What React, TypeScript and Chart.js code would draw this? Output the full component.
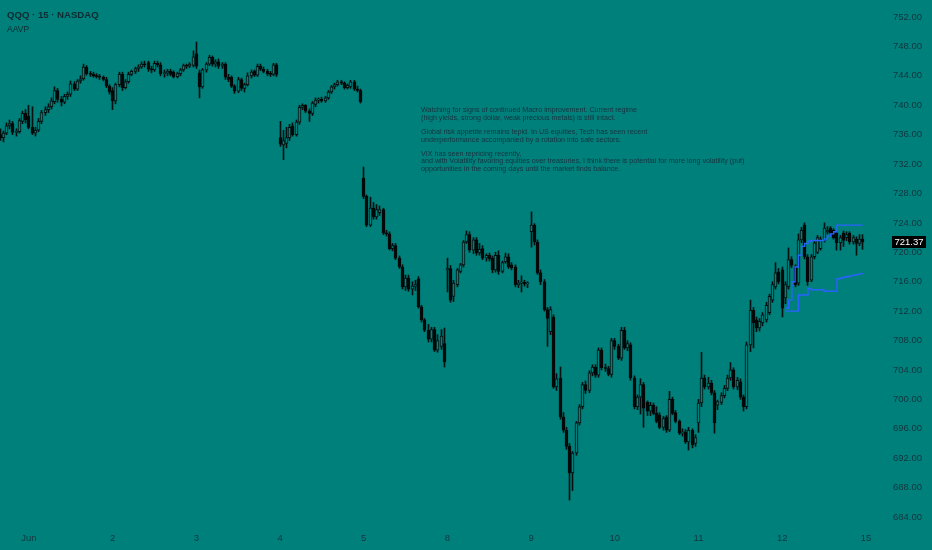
import React, { useEffect, useRef } from "react";
import { Chart, registerables } from "chart.js";

Chart.register(...registerables);

type OHLC = [number, number, number, number]; // open, high, low, close

// ---- 15-minute QQQ bars, grouped by session ----
const MAY29: OHLC[] = [
  [736.0, 736.8, 735.2, 735.6], [735.6, 736.5, 735.0, 736.2], [736.2, 737.6, 736.0, 737.2],
  [737.2, 738.0, 736.8, 737.5], [737.5, 737.8, 736.0, 736.3], [736.3, 736.8, 735.8, 736.4],
  [736.4, 738.2, 736.2, 737.9], [737.8, 739.2, 737.5, 738.9], [738.9, 739.4, 737.6, 738.0],
];
const JUN01: OHLC[] = [
  [738.5, 740.0, 736.8, 737.0], [737.0, 739.8, 736.0, 736.2], [736.2, 737.0, 735.8, 736.6],
  [736.6, 738.2, 736.4, 737.8], [737.8, 739.3, 737.5, 739.0], [739.0, 739.8, 738.6, 739.4],
  [739.4, 740.2, 739.0, 739.8], [739.8, 741.0, 739.5, 740.6], [740.5, 742.5, 740.2, 742.0],
  [742.0, 742.3, 740.4, 740.8], [740.8, 741.2, 739.9, 740.4], [740.4, 741.5, 740.2, 741.2],
  [741.2, 741.8, 740.8, 741.5], [741.5, 743.3, 741.2, 742.9], [742.9, 743.2, 742.0, 742.2],
  [742.2, 743.5, 742.0, 743.3], [743.3, 744.0, 743.0, 743.6], [743.6, 745.6, 743.4, 745.2],
  [745.2, 745.4, 744.1, 744.3], [744.3, 744.6, 743.9, 744.2], [744.2, 744.5, 743.8, 744.0],
  [744.0, 744.3, 743.7, 743.9], [743.9, 744.2, 743.5, 743.8], [743.8, 744.0, 743.3, 743.5],
  [743.5, 743.8, 742.4, 742.6], [742.6, 742.8, 741.5, 741.8],
];
const JUN02: OHLC[] = [
  [742.0, 742.4, 739.4, 740.6], [740.6, 743.0, 740.2, 742.8], [742.8, 744.5, 742.5, 744.2],
  [744.2, 744.5, 742.0, 742.4], [742.4, 743.5, 742.2, 743.2], [743.2, 744.5, 743.0, 744.2],
  [744.2, 744.8, 744.0, 744.6], [744.6, 745.2, 744.3, 745.0], [745.0, 745.5, 744.6, 745.2],
  [745.2, 745.9, 745.0, 745.6], [745.6, 746.0, 745.2, 745.5], [745.8, 746.0, 744.6, 744.9],
  [744.9, 745.3, 744.4, 744.8], [744.8, 746.0, 744.6, 745.7], [745.7, 746.0, 745.2, 745.5],
  [745.5, 745.8, 744.0, 744.3], [744.3, 744.8, 743.8, 744.4], [744.4, 744.9, 744.0, 744.6],
  [744.6, 744.9, 744.0, 744.2], [744.5, 744.7, 743.7, 743.9], [743.9, 744.5, 743.7, 744.3],
  [744.3, 745.0, 744.0, 744.8], [744.8, 745.6, 744.6, 745.4], [745.4, 745.6, 745.0, 745.3],
  [745.3, 745.8, 745.1, 745.6], [745.4, 747.4, 745.2, 746.6],
];
const JUN03: OHLC[] = [
  [747.0, 748.6, 745.0, 745.3], [744.4, 744.8, 741.0, 742.5], [742.5, 745.0, 742.3, 744.8],
  [744.8, 745.8, 744.5, 745.6], [745.6, 746.8, 745.4, 746.5], [746.5, 746.7, 745.3, 745.6],
  [745.6, 746.2, 745.2, 745.9], [745.9, 746.3, 745.0, 745.3], [745.3, 745.8, 745.0, 745.6],
  [745.6, 745.8, 743.5, 743.8], [743.8, 744.2, 743.2, 743.5], [743.8, 744.0, 742.4, 742.6],
  [742.6, 742.8, 741.6, 741.9], [741.9, 743.8, 741.7, 743.5], [743.5, 743.7, 742.0, 742.3],
  [742.3, 743.0, 741.8, 742.8], [742.8, 744.4, 742.6, 744.0], [744.0, 744.8, 743.7, 744.5],
  [744.6, 744.8, 743.9, 744.1], [744.1, 745.6, 743.9, 745.3], [745.3, 745.6, 744.7, 744.9],
  [744.9, 745.2, 744.4, 744.6], [744.6, 744.9, 744.0, 744.3], [744.3, 744.6, 743.9, 744.2],
  [744.2, 745.7, 744.0, 745.5], [745.5, 745.7, 743.9, 744.2],
];
const JUN04: OHLC[] = [
  [735.6, 737.8, 734.4, 734.7], [734.6, 736.6, 732.6, 735.2], [734.8, 737.0, 734.2, 735.6],
  [735.6, 737.4, 735.2, 737.0], [737.2, 737.6, 735.8, 736.0], [736.0, 738.0, 735.8, 737.7],
  [737.7, 740.0, 737.4, 739.7], [739.7, 740.2, 739.4, 740.0], [740.0, 740.1, 739.0, 739.2],
  [739.2, 739.5, 737.8, 738.9], [738.9, 740.5, 738.6, 740.3], [740.1, 741.0, 739.8, 740.7],
  [740.7, 741.0, 740.3, 740.8], [740.8, 741.1, 740.4, 740.6], [740.6, 741.2, 740.4, 741.0],
  [741.0, 742.0, 740.8, 741.8], [741.8, 742.7, 741.6, 742.5], [742.5, 743.0, 742.2, 742.8],
  [742.8, 743.4, 742.6, 743.2], [743.2, 743.4, 742.8, 743.0], [743.0, 743.2, 742.2, 742.4],
  [742.4, 742.9, 742.2, 742.7], [742.5, 743.4, 742.3, 743.2], [743.2, 743.4, 742.0, 742.2],
  [742.2, 742.6, 741.8, 742.0], [742.0, 742.2, 740.3, 740.5],
];
const JUN05: OHLC[] = [
  [730.1, 731.6, 727.3, 727.6], [727.6, 727.8, 723.5, 723.7], [723.7, 727.5, 723.5, 726.0],
  [726.0, 726.8, 724.5, 724.8], [724.8, 726.5, 724.5, 725.8], [725.4, 726.3, 725.0, 725.8],
  [725.8, 726.0, 722.4, 722.6], [722.6, 723.0, 722.2, 722.5], [722.5, 722.8, 720.3, 720.5],
  [720.5, 721.2, 720.2, 720.9], [720.9, 721.2, 719.0, 719.2], [719.2, 719.5, 717.8, 718.0],
  [718.0, 718.3, 715.0, 715.3], [715.3, 716.9, 714.8, 716.5], [716.5, 716.9, 714.7, 715.0],
  [715.0, 716.0, 714.2, 715.4], [715.4, 716.2, 714.8, 715.6], [716.4, 716.7, 712.4, 712.6],
  [712.6, 712.8, 710.5, 710.8], [710.8, 711.0, 709.2, 709.4], [709.4, 710.2, 707.8, 708.2],
  [708.2, 709.8, 707.8, 709.5], [709.5, 709.8, 706.5, 706.7], [706.7, 708.8, 706.4, 708.0],
  [707.2, 709.5, 706.8, 708.6], [707.6, 709.7, 704.4, 705.1],
];
const JUN08: OHLC[] = [
  [717.6, 719.2, 714.6, 717.8], [717.8, 718.2, 713.2, 713.5], [714.0, 716.2, 713.3, 715.8],
  [715.6, 717.8, 715.3, 717.6], [717.4, 718.5, 717.2, 718.3], [718.3, 721.6, 718.0, 721.4],
  [721.4, 722.9, 721.2, 722.4], [722.4, 722.8, 720.0, 720.3], [720.3, 722.0, 719.8, 721.7],
  [721.7, 722.0, 719.6, 719.9], [719.9, 721.2, 719.6, 720.4], [720.5, 720.9, 719.0, 719.2],
  [719.2, 719.8, 718.8, 719.6], [719.6, 719.9, 718.8, 719.1], [719.2, 719.5, 717.2, 717.6],
  [717.6, 720.0, 717.3, 719.6], [719.6, 720.2, 717.0, 717.4], [717.4, 718.8, 717.2, 718.6],
  [718.7, 719.9, 718.5, 719.4], [719.4, 719.8, 717.8, 718.0], [718.3, 718.6, 717.6, 717.9],
  [718.0, 718.3, 715.3, 715.6], [715.6, 716.2, 715.2, 715.8], [715.8, 716.8, 714.6, 715.9],
  [715.9, 716.2, 715.4, 715.7], [715.7, 716.0, 715.2, 715.8],
];
const JUN09: OHLC[] = [
  [722.8, 725.5, 720.7, 723.7], [723.7, 723.9, 721.0, 721.4], [721.4, 721.7, 717.0, 717.2],
  [717.2, 717.6, 715.6, 716.0], [716.0, 716.3, 712.0, 712.2], [712.2, 712.5, 707.2, 711.0],
  [709.2, 712.6, 708.8, 712.2], [711.2, 711.5, 701.5, 701.7], [701.7, 703.5, 701.2, 702.8],
  [702.9, 704.4, 697.3, 697.6], [697.6, 698.2, 695.5, 695.8], [695.8, 696.2, 693.2, 693.6],
  [693.6, 694.0, 686.3, 690.0], [690.0, 692.9, 687.6, 692.7], [692.7, 697.0, 692.4, 696.8],
  [696.8, 699.3, 696.5, 699.0], [699.0, 702.3, 698.7, 702.0], [702.0, 702.5, 700.8, 701.2],
  [701.2, 703.9, 700.9, 703.6], [703.6, 704.7, 703.2, 704.4], [704.4, 704.7, 703.0, 703.3],
  [703.3, 707.0, 703.0, 706.7], [706.7, 707.0, 704.0, 704.3], [704.3, 704.8, 703.8, 704.2],
  [704.2, 704.5, 703.2, 703.4], [703.4, 708.3, 703.0, 708.0],
];
const JUN10: OHLC[] = [
  [708.0, 708.3, 706.8, 707.2], [707.2, 707.5, 705.4, 705.6], [705.6, 709.8, 705.3, 709.4],
  [709.4, 709.8, 706.8, 707.0], [707.0, 708.0, 706.6, 707.6], [707.4, 707.7, 702.6, 702.9],
  [702.9, 703.2, 698.7, 699.0], [699.0, 700.6, 698.6, 700.3], [700.3, 702.8, 698.0, 702.0],
  [702.0, 702.3, 696.2, 698.8], [699.6, 699.8, 697.8, 698.4], [698.4, 699.6, 697.8, 699.2],
  [699.2, 699.5, 697.9, 698.1], [698.1, 699.0, 696.8, 697.0], [697.9, 698.2, 696.0, 696.2],
  [696.2, 697.7, 695.8, 697.4], [697.6, 697.8, 695.5, 695.8], [695.8, 701.1, 695.6, 700.0],
  [700.0, 700.3, 697.9, 698.1], [698.2, 698.5, 696.8, 697.0], [697.0, 697.2, 695.2, 695.4],
  [695.4, 696.0, 695.0, 695.6], [695.6, 695.9, 694.0, 694.2], [694.2, 696.2, 693.1, 695.8],
  [695.8, 696.0, 693.4, 693.8], [694.0, 695.2, 693.6, 694.8],
];
const JUN11: OHLC[] = [
  [696.8, 700.0, 695.5, 699.5], [699.5, 706.4, 699.0, 702.9], [702.9, 703.3, 701.4, 701.7],
  [701.7, 703.0, 701.4, 702.2], [702.2, 702.6, 700.6, 700.9], [700.9, 701.2, 695.4, 696.8],
  [699.2, 699.9, 698.6, 699.7], [699.6, 700.9, 699.3, 700.5], [700.5, 701.9, 700.2, 701.5],
  [701.5, 703.3, 701.2, 702.9], [702.9, 705.0, 702.6, 704.0], [704.0, 704.3, 701.4, 701.7],
  [701.7, 703.0, 701.3, 702.6], [702.4, 702.8, 700.0, 700.3], [700.3, 700.6, 698.4, 699.0],
  [699.0, 707.8, 698.7, 707.4], [707.4, 713.5, 706.5, 712.1], [712.1, 712.5, 707.0, 710.4],
  [710.8, 711.2, 709.2, 709.7], [709.7, 711.0, 709.3, 710.6], [710.4, 711.8, 710.0, 711.5],
  [710.8, 713.2, 710.5, 712.8], [711.8, 714.3, 711.5, 714.0], [713.5, 716.0, 713.2, 715.6],
  [715.3, 718.6, 715.0, 717.2], [717.3, 717.8, 715.7, 716.0],
];
const JUN12: OHLC[] = [
  [717.6, 718.0, 711.2, 712.4], [713.8, 716.0, 713.0, 715.6], [715.3, 720.6, 715.0, 719.0],
  [719.0, 719.4, 717.9, 718.2], [718.0, 718.3, 715.3, 715.6], [715.8, 722.5, 715.5, 721.7],
  [721.7, 723.4, 721.3, 723.0], [723.7, 724.0, 719.1, 719.4], [719.4, 719.7, 715.5, 716.0],
  [716.2, 719.7, 716.0, 719.4], [719.4, 721.6, 719.1, 721.3], [720.0, 722.3, 719.8, 722.0],
  [720.5, 722.1, 720.3, 721.8], [721.7, 724.0, 721.4, 723.3], [722.8, 723.5, 722.5, 723.0],
  [723.3, 723.5, 722.3, 722.6], [723.0, 723.2, 721.8, 722.0], [722.6, 722.8, 720.3, 721.3],
  [721.3, 722.3, 720.3, 722.0], [722.6, 722.9, 720.8, 721.6], [722.0, 722.8, 721.6, 722.4],
  [722.6, 722.8, 721.1, 721.4], [721.4, 722.3, 721.1, 722.0], [721.8, 722.1, 719.6, 721.2],
  [721.2, 722.4, 720.9, 721.8], [721.8, 722.4, 720.4, 721.37],
];

const SESSIONS: OHLC[][] = [MAY29, JUN01, JUN02, JUN03, JUN04, JUN05, JUN08, JUN09, JUN10, JUN11, JUN12];
// labels for the first bar of each session after May 29, plus the next session (Jun 15)
const DAY_LABELS = ["Jun", "2", "3", "4", "5", "8", "9", "10", "11", "12", "15"];
const Y_TICKS = [684, 688, 692, 696, 700, 704, 708, 712, 716, 720, 724, 728, 732, 736, 740, 744, 748, 752];

// AAVP indicator lines (anchored on Jun 12), one value per bar from bar AAVP_START
const AAVP_START = 244;
const AAVP_UPPER = [
  712.4, 713.5, 716.0, 718.0, 719.6, 720.8, 721.2, 721.5, 721.6, 721.6, 721.6, 721.6, 721.8,
  722.2, 722.5, 722.8, 723.7, 723.7, 723.7, 723.7, 723.7, 723.7, 723.7, 723.7, 723.7,
];
const AAVP_LOWER = [
  712.0, 712.0, 712.0, 712.0, 714.2, 714.2, 714.2, 715.1, 714.9, 714.9, 714.9, 714.9, 714.7,
  714.7, 714.7, 714.7, 716.4, 716.5, 716.6, 716.7, 716.8, 716.9, 717.0, 717.1, 717.2,
];
const LAST_PRICE = 721.37;

const NOTE_LINES = [
  "Watching for signs of continued Macro improvement. Current regime",
  "(high yields, strong dollar, weak precious metals) is still intact.",
  "",
  "Global risk appetite remains tepid. In US equities, Tech has seen recent",
  "underperformance accompanied by a rotation into safe sectors.",
  "",
  "VIX has seen repricing recently,",
  "and with Volatility favoring equities over treasuries, I think there is potential for more long volatility (put)",
  "opportunities in the coming days until the market finds balance.",
];

const BG = "#00807b";
const DOWN = "#030808";
const EDGE = "#061010";
const WICK = "#061010";
const LINE_BLUE = "#2962ff";
const TEXT = "#14343f";

const W = 932;
const H = 550;
const AXIS_W = 52;
const AXIS_H = 20;
const PX_PER_BAR = 3.219;
const Y_PX_PER_UNIT = 7.353;
const Y_TOP_VALUE = 752 + 17 / Y_PX_PER_UNIT;

export default function App() {
  const ref = useRef<HTMLCanvasElement | null>(null);

  useEffect(() => {
    document.body.style.margin = "0";
    const canvas = ref.current;
    if (!canvas) return;

    const bars: OHLC[] = SESSIONS.flat();
    const dayStarts: number[] = [];
    let acc = 0;
    SESSIONS.forEach((s, k) => {
      if (k > 0) dayStarts.push(acc);
      acc += s.length;
    });
    dayStarts.push(acc);
    const labelAt = new Map<number, string>();
    dayStarts.forEach((v, k) => labelAt.set(v, DAY_LABELS[k]));

    const plotW = W - AXIS_W;
    const plotH = H - AXIS_H;
    const xMax = plotW / PX_PER_BAR;
    const yMin = Y_TOP_VALUE - plotH / Y_PX_PER_UNIT;

    const bgPlugin = {
      id: "bg",
      beforeDraw(chart: any) {
        const c = chart.ctx;
        c.save();
        c.fillStyle = BG;
        c.fillRect(0, 0, chart.width, chart.height);
        c.restore();
      },
      // snap candle bodies and wicks to whole device pixels so they render crisply
      afterDatasetsUpdate(chart: any) {
        chart.data.datasets.forEach((_ds: any, di: number) => {
          const meta = chart.getDatasetMeta(di);
          if (meta.type !== "bar") return;
          meta.data.forEach((el: any) => {
            el.x = Math.floor(el.x) + 0.5;
          });
        });
      },
      afterDraw(chart: any) {
        const c = chart.ctx;
        const y = chart.scales.y.getPixelForValue(LAST_PRICE);
        c.save();
        c.fillStyle = "#000000";
        c.fillRect(892, Math.round(y) - 6, 34, 12);
        c.fillStyle = "#ffffff";
        c.font = "9.5px 'Liberation Sans', Arial, sans-serif";
        c.textAlign = "center";
        c.textBaseline = "middle";
        c.fillText(LAST_PRICE.toFixed(2), 909, Math.round(y) + 0.5);
        c.restore();
      },
    };

    const chart = new Chart(canvas, {
      type: "bar",
      data: {
        datasets: [
          {
            type: "line",
            data: AAVP_UPPER.map((v, k) => ({ x: AAVP_START + k, y: v })),
            borderColor: LINE_BLUE,
            borderWidth: 1.4,
            pointRadius: 0,
            stepped: true,
            order: 0,
          } as any,
          {
            type: "line",
            data: AAVP_LOWER.map((v, k) => ({ x: AAVP_START + k, y: v })),
            borderColor: LINE_BLUE,
            borderWidth: 1.4,
            pointRadius: 0,
            stepped: true,
            order: 0,
          } as any,
          {
            data: bars.map((b, i) => ({ x: i, y: [b[0], b[3]] })),
            backgroundColor: bars.map((b) => (b[3] < b[0] ? DOWN : BG)),
            borderColor: bars.map((b) => (b[3] < b[0] ? DOWN : EDGE)),
            borderWidth: 1,
            borderSkipped: false,
            barThickness: 3,
            minBarLength: 1,
            grouped: false,
            order: 1,
          } as any,
          {
            data: bars.map((b, i) => ({ x: i, y: [b[2], b[1]] })),
            backgroundColor: WICK,
            borderWidth: 0,
            barThickness: 1,
            grouped: false,
            order: 2,
          } as any,
        ],
      },
      options: {
        animation: false,
        responsive: false,
        events: [],
        layout: { padding: 0, autoPadding: false },
        plugins: { legend: { display: false }, tooltip: { enabled: false } },
        scales: {
          x: {
            type: "linear",
            min: 0,
            max: xMax,
            offset: false,
            grid: { display: false, drawTicks: false },
            border: { display: false },
            afterBuildTicks: (axis: any) => {
              axis.ticks = dayStarts.map((v) => ({ value: v }));
            },
            afterFit: (axis: any) => {
              axis.height = AXIS_H;
              axis.paddingLeft = 0;
              axis.paddingRight = 0;
            },
            ticks: {
              autoSkip: false,
              maxRotation: 0,
              padding: 3,
              color: TEXT,
              font: { family: "'Liberation Sans', Arial, sans-serif", size: 9.5 },
              callback: (v: any) => labelAt.get(Number(v)) ?? "",
            },
          },
          y: {
            type: "linear",
            position: "right",
            min: yMin,
            max: Y_TOP_VALUE,
            grid: { display: false, drawTicks: false },
            border: { display: false },
            afterBuildTicks: (axis: any) => {
              axis.ticks = Y_TICKS.map((v) => ({ value: v }));
            },
            afterFit: (axis: any) => {
              axis.width = AXIS_W;
              axis.paddingTop = 0;
              axis.paddingBottom = 0;
            },
            ticks: {
              padding: 13,
              color: TEXT,
              font: { family: "'Liberation Sans', Arial, sans-serif", size: 9.5 },
              callback: (v: any) => Number(v).toFixed(2),
            },
          },
        },
      } as any,
      plugins: [bgPlugin],
    });

    return () => chart.destroy();
  }, []);

  return (
    <div
      style={{
        position: "fixed",
        left: 0,
        top: 0,
        width: W,
        height: H,
        background: BG,
        overflow: "hidden",
      }}
    >
      <canvas ref={ref} width={W} height={H} style={{ display: "block" }} />
      <div
        style={{
          position: "absolute",
          left: 7,
          top: 8,
          font: "bold 9.6px 'Liberation Sans', Arial, sans-serif",
          color: "#0f2a30",
          whiteSpace: "nowrap",
          lineHeight: "13px",
        }}
      >
        QQQ · 15 · NASDAQ
      </div>
      <div
        style={{
          position: "absolute",
          left: 7,
          top: 24,
          font: "8.5px 'Liberation Sans', Arial, sans-serif",
          color: "#0f2a30",
          whiteSpace: "nowrap",
          lineHeight: "11px",
        }}
      >
        AAVP
      </div>
      <div
        style={{
          position: "absolute",
          left: 421,
          top: 107.4,
          font: "7.15px 'Liberation Sans', Arial, sans-serif",
          color: "#17323f",
          whiteSpace: "pre",
          lineHeight: "7.3px",
        }}
      >
        {NOTE_LINES.join("\n")}
      </div>
    </div>
  );
}
